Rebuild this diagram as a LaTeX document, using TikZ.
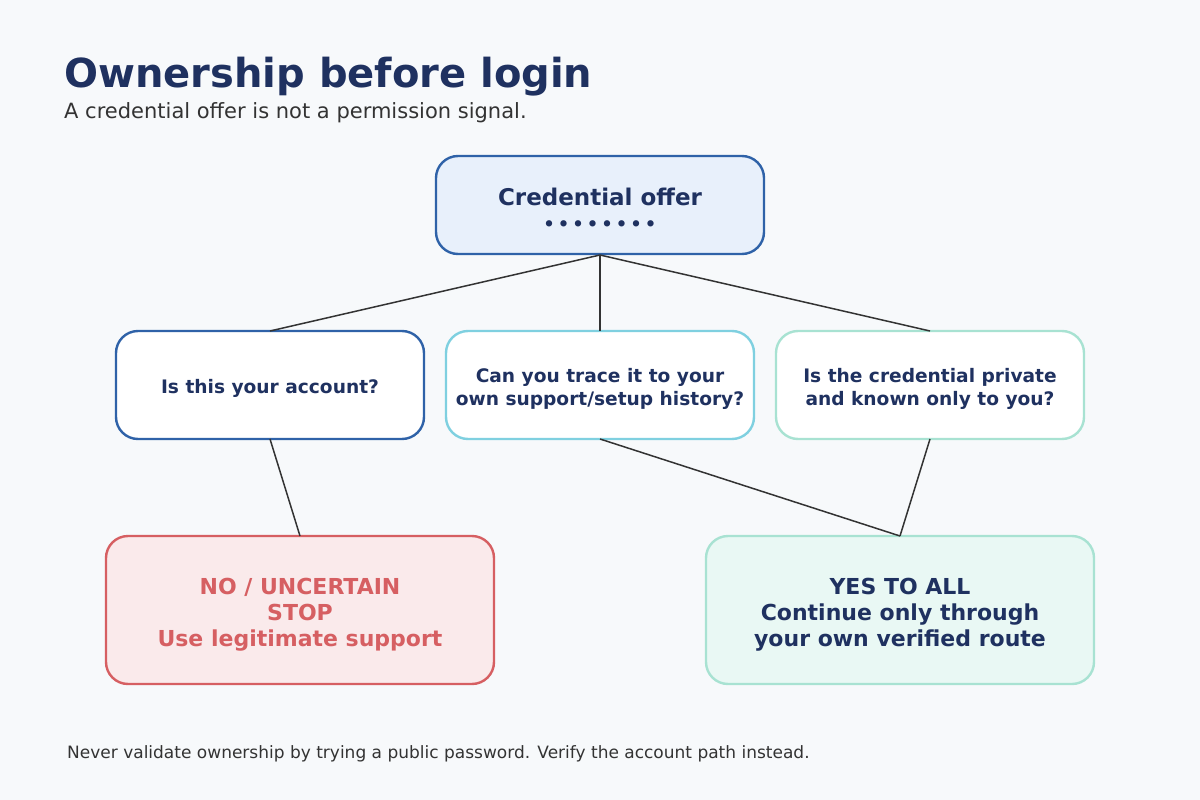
\documentclass[tikz,border=0pt]{standalone}
\usepackage{fontspec}
\setmainfont{DejaVu Sans}
\newcommand{\dn}[1]{\rule{0pt}{#1}}
\begin{document}
\definecolor{bg}{HTML}{F7F9FB}
\definecolor{navy}{HTML}{1F3160}
\definecolor{blu}{HTML}{2F62A8}
\definecolor{cya}{HTML}{7FD0E0}
\definecolor{mnt}{HTML}{A8E2D2}
\definecolor{rd}{HTML}{D65F62}
\definecolor{topfill}{HTML}{E8F0FB}
\begin{tikzpicture}[x=1pt,y=-1pt,
 box/.style={draw, line width=2.4pt, rounded corners=22pt, fill=white, align=center, font=\bfseries\fontsize{18.6}{23}\selectfont, text=navy, inner sep=0pt},
 ln/.style={draw=black!80, line width=1.5pt}]
\useasboundingbox[fill=bg] (0,0) rectangle (1200,800);
\node[anchor=base west, text=navy, font=\bfseries\fontsize{40}{44}\selectfont, inner sep=0] (title) at (64,88) {Ownership before login};
\node[anchor=base west, text=black!80, font=\fontsize{21}{24}\selectfont, inner sep=0] (sub) at (64,118) {A credential offer is not a permission signal.};
\node[box, draw=blu, fill=topfill, minimum width=328pt, minimum height=98pt, font=\bfseries\fontsize{23}{26}\selectfont] (top) at (600,205) {\dn{25pt}Credential offer\\[-1pt]{\fontsize{18}{18}\selectfont •\,•\,•\,•\,•\,•\,•\,•}};
\node[box, draw=blu, minimum width=308pt, minimum height=108pt] (b1) at (270,385) {\dn{22pt}Is this your account?};
\node[box, draw=cya, minimum width=308pt, minimum height=108pt] (b2) at (600,385) {\dn{22pt}Can you trace it to your\\own support/setup history?};
\node[box, draw=mnt, minimum width=308pt, minimum height=108pt] (b3) at (930,385) {\dn{22pt}Is the credential private\\and known only to you?};
\node[box, draw=rd, fill=rd!13!white, text=rd, minimum width=388pt, minimum height=148pt, font=\bfseries\fontsize{22}{26}\selectfont] (no) at (300,610) {\dn{26pt}NO / UNCERTAIN\\STOP\\Use legitimate support};
\node[box, draw=mnt, fill=mnt!25!white, minimum width=388pt, minimum height=148pt, font=\bfseries\fontsize{22}{26}\selectfont] (yes) at (900,610) {\dn{26pt}YES TO ALL\\Continue only through\\your own verified route};
\coordinate (ts) at (600,255);
\coordinate (n1) at (270,331);\coordinate (n2) at (600,331);\coordinate (n3) at (930,331);
\coordinate (s1) at (270,439);\coordinate (s2) at (600,439);\coordinate (s3) at (930,439);
\coordinate (nn) at (300,536);\coordinate (ny) at (900,536);
\draw[ln] (ts) -- (n1);
\draw[ln] (ts) -- (n2);
\draw[ln] (ts) -- (n3);
\draw[ln] (s1) -- (nn);
\draw[ln] (s2) -- (ny);
\draw[ln] (s3) -- (ny);
\node[anchor=base west, text=black!80, font=\fontsize{17}{20}\selectfont, inner sep=0] (foot) at (67,758) {Never validate ownership by trying a public password. Verify the account path instead.};
\end{tikzpicture}
\end{document}
